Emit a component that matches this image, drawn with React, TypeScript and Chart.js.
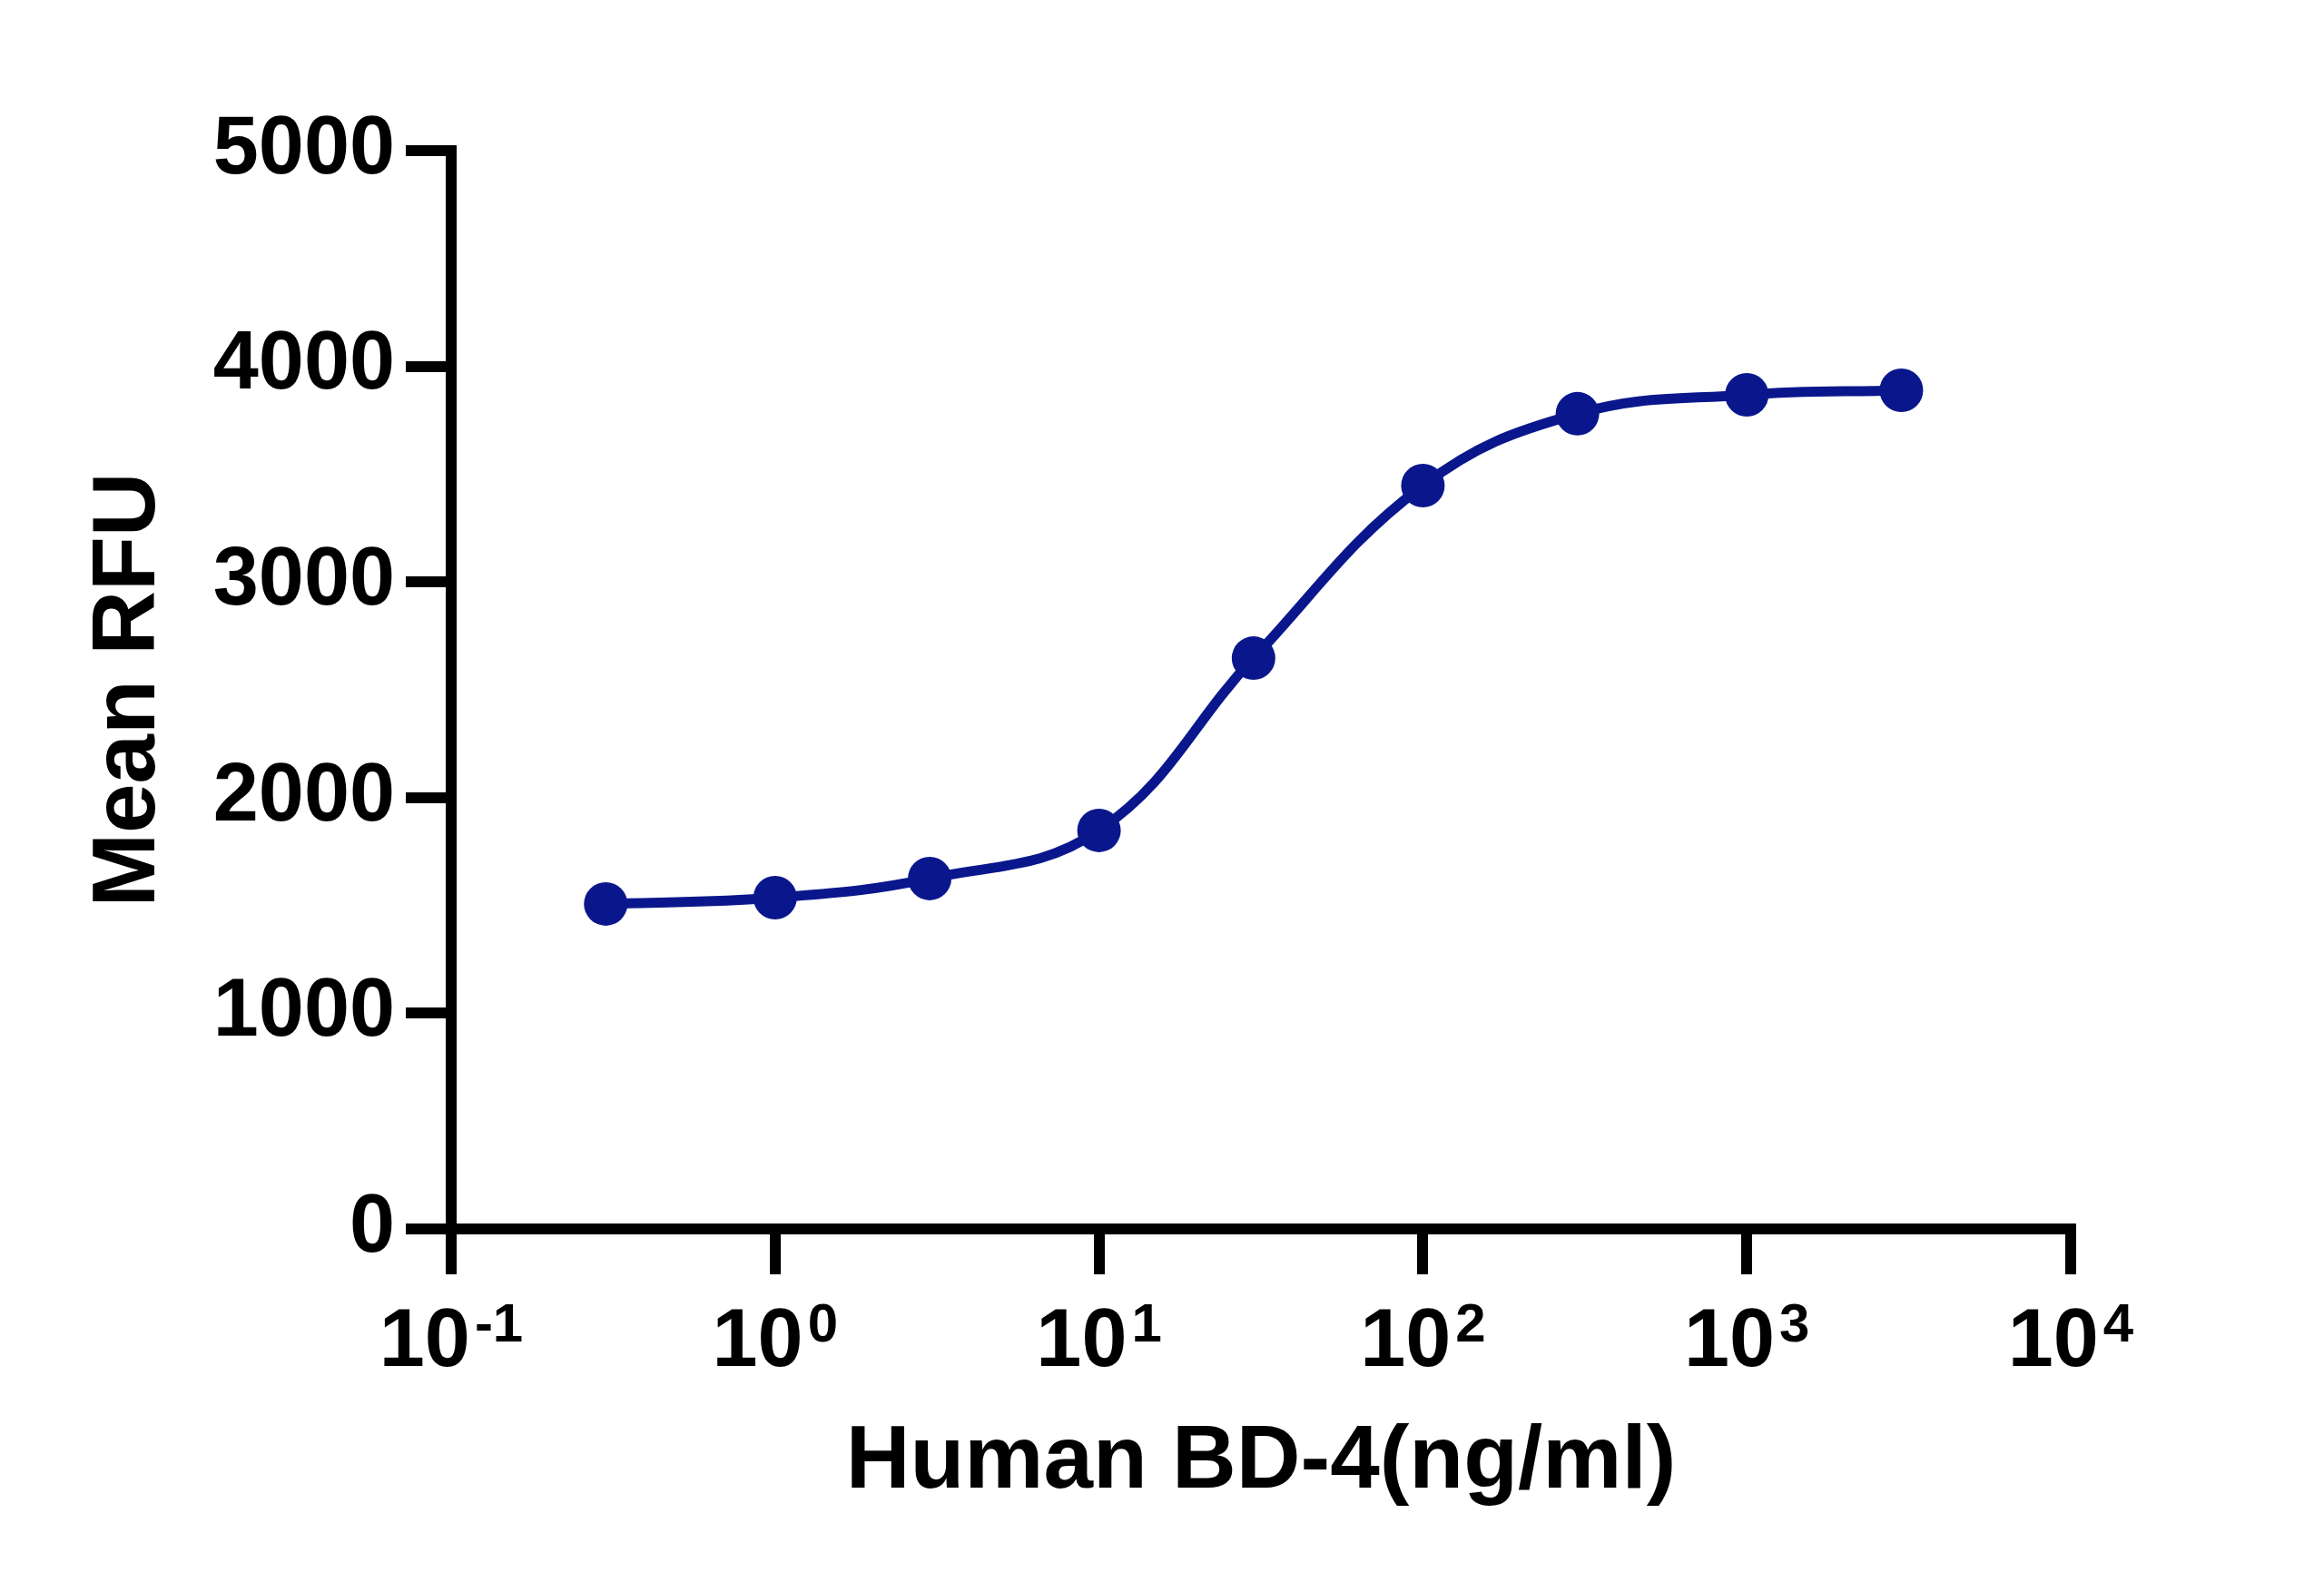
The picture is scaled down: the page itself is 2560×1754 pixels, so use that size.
import { useEffect, useRef } from "react"
import { Chart, registerables } from "chart.js"

Chart.register(...registerables)

// Human BD-4 dose response (ng/ml vs mean RFU)
const concentrations = [0.3, 1, 3, 10, 30, 100, 300, 1000, 3000]
const meanRfu = [1507, 1536, 1625, 1848, 2647, 3447, 3780, 3868, 3889]

const xTickValues = [0.1, 1, 10, 100, 1000, 10000]
const xTickBase = "10"
const xTickExponents = ["-1", "0", "1", "2", "3", "4"]
const yTickValues = [0, 1000, 2000, 3000, 4000, 5000]

const FONT = "'Liberation Sans', Arial, sans-serif"
const BLUE = "#0a178c"
const AXIS_W = 12

const axesPlugin = {
  id: "prismAxes",
  afterDraw(chart: any) {
    const { ctx, chartArea, scales } = chart
    ctx.save()
    ctx.strokeStyle = "#000"
    ctx.lineWidth = AXIS_W
    ctx.lineCap = "square"
    ctx.lineJoin = "miter"
    ctx.beginPath()
    ctx.moveTo(chartArea.left, chartArea.top)
    ctx.lineTo(chartArea.left, chartArea.bottom)
    ctx.lineTo(chartArea.right, chartArea.bottom)
    ctx.stroke()

    // x tick labels as 10 with a raised exponent
    ctx.fillStyle = "#000"
    ctx.textAlign = "left"
    ctx.textBaseline = "alphabetic"
    xTickValues.forEach((v, i) => {
      const px = scales.x.getPixelForValue(v)
      ctx.font = `bold 90px ${FONT}`
      const baseW = ctx.measureText(xTickBase).width
      ctx.font = `bold 60px ${FONT}`
      const expW = ctx.measureText(xTickExponents[i]).width
      const gap = 5
      const start = px - (baseW + gap + expW) / 2
      ctx.font = `bold 90px ${FONT}`
      ctx.fillText(xTickBase, start, chartArea.bottom + 151)
      ctx.font = `bold 60px ${FONT}`
      ctx.fillText(xTickExponents[i], start + baseW + gap, chartArea.bottom + 124)
    })
    ctx.restore()
  },
}

function DoseResponse() {
  const chartRef = useRef<HTMLCanvasElement>(null)
  const chartInstance = useRef<Chart | null>(null)

  useEffect(() => {
    if (!chartRef.current) return
    if (chartInstance.current) chartInstance.current.destroy()
    const ctx = chartRef.current.getContext("2d")
    if (!ctx) return

    chartInstance.current = new Chart(ctx, {
      type: "line",
      data: {
        datasets: [
          {
            label: "Human BD-4",
            data: concentrations.map((c, i) => ({ x: c, y: meanRfu[i] })),
            borderColor: BLUE,
            backgroundColor: BLUE,
            borderWidth: 11,
            pointRadius: 24,
            pointBorderWidth: 0,
            pointBackgroundColor: BLUE,
            tension: 0.4,
            fill: false,
          },
        ],
      },
      options: {
        animation: false,
        responsive: false,
        devicePixelRatio: 1,
        layout: { padding: { top: 166, right: 279, bottom: 0, left: 0 } },
        plugins: { legend: { display: false }, tooltip: { enabled: false } },
        scales: {
          x: {
            type: "logarithmic",
            min: xTickValues[0],
            max: xTickValues[xTickValues.length - 1],
            afterBuildTicks: (scale: any) => {
              scale.ticks = xTickValues.map((value) => ({ value }))
            },
            afterFit: (scale: any) => {
              scale.height = 400
            },
            border: { display: false },
            grid: {
              drawOnChartArea: false,
              drawTicks: true,
              tickLength: 50,
              tickWidth: AXIS_W,
              lineWidth: AXIS_W,
              color: "#000",
            },
            ticks: { display: false },
            title: {
              display: true,
              text: "Human BD-4(ng/ml)",
              color: "#000",
              font: { family: FONT, size: 98, weight: "bold", lineHeight: 1.2 },
              padding: { top: 0, bottom: 83 },
            },
          },
          y: {
            type: "linear",
            min: yTickValues[0],
            max: yTickValues[yTickValues.length - 1],
            afterBuildTicks: (scale: any) => {
              scale.ticks = yTickValues.map((value) => ({ value }))
            },
            afterFit: (scale: any) => {
              scale.width = 497
            },
            border: { display: false },
            grid: {
              drawOnChartArea: false,
              drawTicks: true,
              tickLength: 50,
              tickWidth: AXIS_W,
              lineWidth: AXIS_W,
              color: "#000",
            },
            ticks: {
              color: "#000",
              padding: 12,
              font: { family: FONT, size: 90, weight: "bold" },
              callback: (v: any) => String(v),
            },
            title: {
              display: true,
              text: "Mean RFU",
              color: "#000",
              font: { family: FONT, size: 98, weight: "bold", lineHeight: 1.2 },
              padding: { top: 84, bottom: 0 },
            },
          },
        },
      },
      plugins: [axesPlugin],
    })

    return () => {
      if (chartInstance.current) {
        chartInstance.current.destroy()
        chartInstance.current = null
      }
    }
  }, [])

  return <canvas ref={chartRef} width={2560} height={1754} style={{ display: "block" }} />
}

export default function App() {
  return (
    <div style={{ position: "absolute", left: 0, top: 0, width: 2560, height: 1754, background: "#fff" }}>
      <DoseResponse />
    </div>
  )
}
